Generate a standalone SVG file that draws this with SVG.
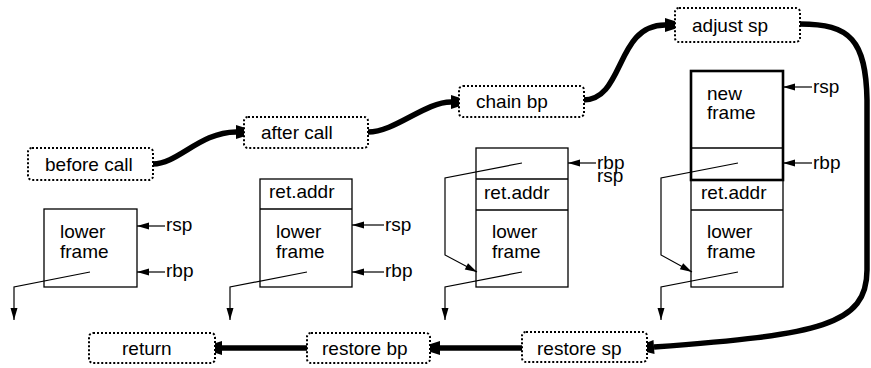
<svg xmlns="http://www.w3.org/2000/svg" width="871" height="368" viewBox="0 0 871 368">
<style>
  text { font-family: "Liberation Sans", Arial, sans-serif; font-size: 19px; fill: #000; }
  .step { fill: #fff; stroke: #000; stroke-width: 2; stroke-dasharray: 2 2; }
  .cell { fill: none; stroke: #000; stroke-width: 1.3; }
  .thick { fill: none; stroke: #000; stroke-width: 2.6; }
  .flow { fill: none; stroke: #000; stroke-width: 5.5; }
  .ptr { fill: none; stroke: #000; stroke-width: 1.2; }
</style>
<defs>
  <marker id="big" markerUnits="userSpaceOnUse" viewBox="0 -8 24 16" refX="0" refY="0" markerWidth="24" markerHeight="16" orient="auto" overflow="visible">
    <path d="M0,-7 L22,0 L0,7 z" fill="#000"/>
  </marker>
  <marker id="small" markerUnits="userSpaceOnUse" viewBox="0 -5 13 10" refX="12" refY="0" markerWidth="13" markerHeight="10" orient="auto" overflow="visible">
    <path d="M0,-3.5 L12,0 L0,3.5 z" fill="#000"/>
  </marker>
</defs>

<g id="connectors">
  <path class="flow" d="M153,164 C178,164 200,132 236,132" marker-end="url(#big)"/>
  <path class="flow" d="M368,132 C395,132 425,102 451,102" marker-end="url(#big)"/>
  <path class="flow" d="M583,100 C625,100 615,25 665,25" marker-end="url(#big)"/>
  <path class="flow" d="M800,24 C850,24 866,40 867,100 L867,270 C867,325 820,335 654,347" marker-end="url(#big)"/>
  <path class="flow" d="M522,348 L440,348" marker-end="url(#big)"/>
  <path class="flow" d="M307,348 L222,348" marker-end="url(#big)"/>
</g>

<g id="before-call">
  <rect class="step" x="28" y="148" width="125" height="32" rx="4"/>
  <text x="45" y="171">before call</text>
</g>
<g id="after-call">
  <rect class="step" x="244" y="117" width="124" height="31" rx="4"/>
  <text x="261" y="139">after call</text>
</g>
<g id="chain-bp">
  <rect class="step" x="459" y="86" width="125" height="31" rx="4"/>
  <text x="476" y="108">chain bp</text>
</g>
<g id="adjust-sp">
  <rect class="step" x="675" y="8" width="125" height="34" rx="4"/>
  <text x="692" y="32">adjust sp</text>
</g>
<g id="restore-sp">
  <rect class="step" x="522" y="332" width="125" height="30" rx="4"/>
  <text x="537" y="355">restore sp</text>
</g>
<g id="restore-bp">
  <rect class="step" x="307" y="333" width="123" height="30" rx="4"/>
  <text x="322" y="355">restore bp</text>
</g>
<g id="return">
  <rect class="step" x="89" y="333" width="126" height="30" rx="4"/>
  <text x="122" y="355">return</text>
</g>

<g id="stack-before-call">
  <rect class="cell" x="44" y="209" width="93" height="78"/>
  <text x="60" y="238">lower</text>
  <text x="60" y="258">frame</text>
  <path class="ptr" d="M165,226 L137,226" marker-end="url(#small)"/>
  <text x="166" y="231">rsp</text>
  <path class="ptr" d="M165,272 L137,272" marker-end="url(#small)"/>
  <text x="166" y="277">rbp</text>
  <path class="ptr" d="M90,272 L14,287 L14,320" marker-end="url(#small)"/>
</g>

<g id="stack-after-call">
  <rect class="cell" x="260" y="179" width="92" height="108"/>
  <line class="cell" x1="260" y1="209" x2="352" y2="209"/>
  <text x="269" y="198">ret.addr</text>
  <text x="276" y="238">lower</text>
  <text x="276" y="258">frame</text>
  <path class="ptr" d="M384,225 L352,225" marker-end="url(#small)"/>
  <text x="385" y="231">rsp</text>
  <path class="ptr" d="M384,272 L352,272" marker-end="url(#small)"/>
  <text x="385" y="277">rbp</text>
  <path class="ptr" d="M307,272 L230,287 L230,320" marker-end="url(#small)"/>
</g>

<g id="stack-chain-bp">
  <rect class="cell" x="476" y="148" width="92" height="139"/>
  <line class="cell" x1="476" y1="179" x2="568" y2="179"/>
  <line class="cell" x1="476" y1="210" x2="568" y2="210"/>
  <text x="484" y="199">ret.addr</text>
  <text x="492" y="238">lower</text>
  <text x="492" y="258">frame</text>
  <text x="597" y="182">rsp</text>
  <rect x="594" y="153" width="34" height="19" fill="#fff"/>
  <path class="ptr" d="M596,163 L568,163" marker-end="url(#small)"/>
  <text x="597" y="169">rbp</text>
  <path class="ptr" d="M522,163 L445,178 L445,255 L477,272" marker-end="url(#small)"/>
  <path class="ptr" d="M522,272 L445,287 L445,320" marker-end="url(#small)"/>
</g>

<g id="stack-adjust-sp">
  <rect class="cell" x="691" y="180" width="92" height="107"/>
  <line class="cell" x1="691" y1="210" x2="783" y2="210"/>
  <rect class="thick" x="691" y="71" width="92" height="109"/>
  <line class="cell" x1="691" y1="148" x2="783" y2="148"/>
  <text x="707" y="100">new</text>
  <text x="707" y="119">frame</text>
  <text x="701" y="199">ret.addr</text>
  <text x="707" y="238">lower</text>
  <text x="707" y="258">frame</text>
  <path class="ptr" d="M812,87 L783,87" marker-end="url(#small)"/>
  <text x="813" y="93">rsp</text>
  <path class="ptr" d="M812,163 L783,163" marker-end="url(#small)"/>
  <text x="813" y="169">rbp</text>
  <path class="ptr" d="M738,163 L661,178 L661,255 L692,272" marker-end="url(#small)"/>
  <path class="ptr" d="M738,272 L661,287 L661,320" marker-end="url(#small)"/>
</g>
</svg>
